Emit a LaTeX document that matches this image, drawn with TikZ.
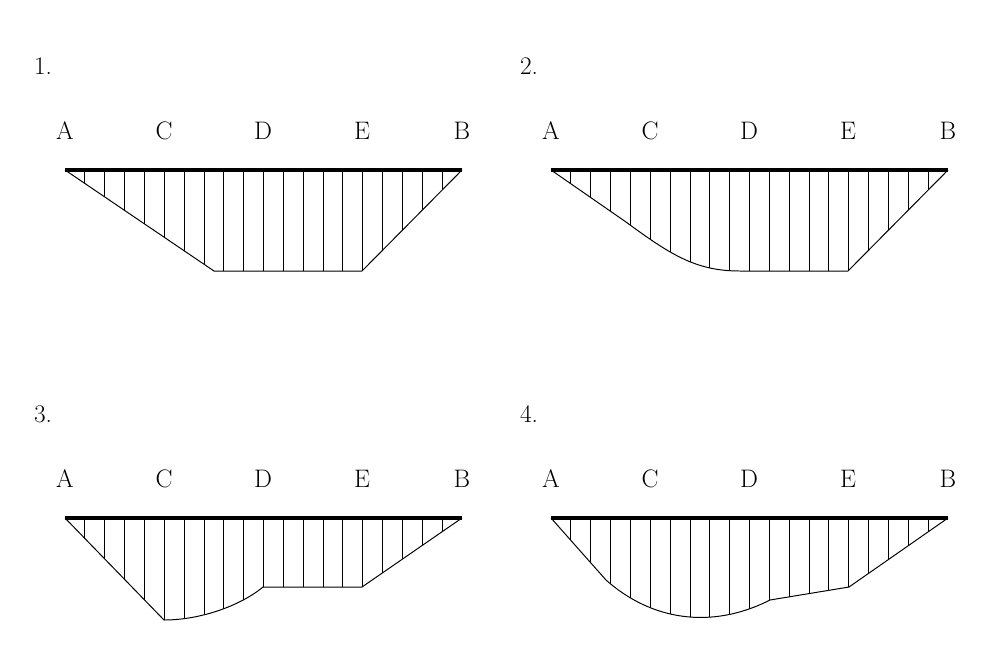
\documentclass[tikz,border=0pt]{standalone}
\usepackage{tikz}
\begin{document}
\begin{tikzpicture}[x=0.025cm,y=-0.025cm,
    beam/.style={line width=2.8pt},
    outline/.style={line width=0.7pt},
    hatch/.style={line width=0.6pt},
    lbl/.style={font=\fontsize{18}{20}\selectfont, inner sep=0pt}
  ]
  \useasboundingbox (0,0) rectangle (1000,660);
  % Panels: shift, number, outline
  \foreach \dx/\dy/\num/\shape in {
      0/0/1/{(65,170) -- (214,271) -- (362,271) -- (462,170)},
      486/0/2/{(65,170) -- (140,222) .. controls (185,255) and (210,271) .. (254,271) -- (362,271) -- (462,170)},
      0/348/3/{(65,170) -- (164,272) .. controls (200,272) and (240,258) .. (263,239) -- (362,239) -- (462,170)},
      486/348/4/{(65,170) -- (120,232) .. controls (165,272) and (225,282) .. (284,252) -- (363,239) -- (462,170)}} {
    \begin{scope}[shift={(\dx,\dy)}]
      \node[lbl] (num\num) at (43,66) {\num.};
      \foreach \p/\x in {A/65, C/164, D/263, E/362, B/462}
        \node[lbl] (\p\num) at (\x,131) {\p};
      \begin{scope}
        \clip \shape -- cycle;
        \foreach \i in {1,...,19}
          \draw[hatch] ({65+\i*19.85},170) -- ++(0,120);
      \end{scope}
      \draw[outline] \shape;
      \draw[beam] (65,170) -- (462,170);
    \end{scope}
  }
\end{tikzpicture}
\end{document}
